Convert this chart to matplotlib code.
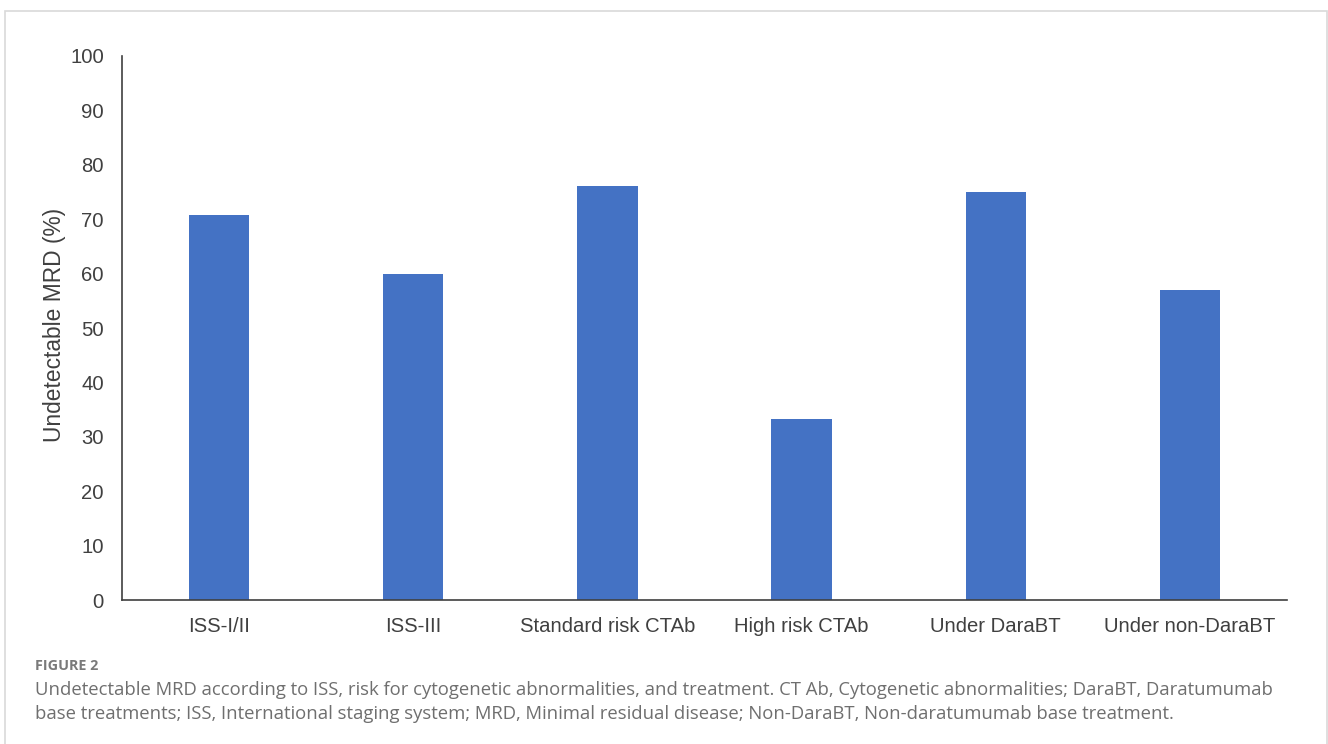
import matplotlib.pyplot as plt
import numpy as np
from matplotlib.patches import Rectangle

# Dados (leitura do gráfico)
categories = ["ISS-I/II", "ISS-III", "Standard risk CTAb", "High risk CTAb",
              "Under DaraBT", "Under non-DaraBT"]
mrd_values = [70.8, 60.0, 76.0, 33.3, 75.0, 57.0]
y_ticks = [0, 10, 20, 30, 40, 50, 60, 70, 80, 90, 100]

caption_title = "FIGURE 2"
caption_lines = [
    "Undetectable MRD according to ISS, risk for cytogenetic abnormalities, and treatment. CT Ab, Cytogenetic abnormalities; DaraBT, Daratumumab",
    "base treatments; ISS, International staging system; MRD, Minimal residual disease; Non-DaraBT, Non-daratumumab base treatment.",
]

W, H = 1328, 744
fig = plt.figure(figsize=(W / 100, H / 100), dpi=100)

# Moldura cinza em volta da figura
fig.patches.append(Rectangle((4.5 / W, -0.01), (1327 - 4.5) / W, (H - 11) / H + 0.01,
                             transform=fig.transFigure, fill=False,
                             edgecolor="#d9d9d9", linewidth=1.2))

ax = fig.add_axes([122 / W, 1 - 600.3 / H, (1287 - 122) / W, (600.3 - 55.7) / H])

x = np.arange(len(categories))
ax.bar(x, mrd_values, width=0.31, color="#4472C4")

ax.set_xlim(-0.5, len(categories) - 0.5)
ax.set_ylim(0, 100)
ax.set_yticks(y_ticks)
ax.set_xticks(x)
ax.set_xticklabels(categories)

font = ["Liberation Sans", "DejaVu Sans"]
for lab in ax.get_xticklabels() + ax.get_yticklabels():
    lab.set_family(font)
    lab.set_fontsize(14.6)
    lab.set_color("#404040")

ax.tick_params(axis="y", length=0, pad=13)
ax.tick_params(axis="x", length=0, pad=12)

for side in ["top", "right"]:
    ax.spines[side].set_visible(False)
for side in ["left", "bottom"]:
    ax.spines[side].set_color("#404040")
    ax.spines[side].set_linewidth(1.2)

ax.set_ylabel("Undetectable MRD (%)", family=font, fontsize=16.4, color="#404040")
ax.yaxis.set_label_coords((66 - 122) / 1165, 0.505)

# Legenda da figura
fig.text(35 / W, 1 - 666 / H, caption_title, family=["Open Sans", "DejaVu Sans"],
         fontsize=10.4, fontweight="bold", color="#7a7a7a", va="center", ha="left")
for i, line in enumerate(caption_lines):
    fig.text(35 / W, 1 - (690 + 24 * i) / H, line, family=["Open Sans", "DejaVu Sans"],
             fontsize=13.3, color="#6f6f6f", va="center", ha="left")

fig.savefig("out.png", dpi=100)
